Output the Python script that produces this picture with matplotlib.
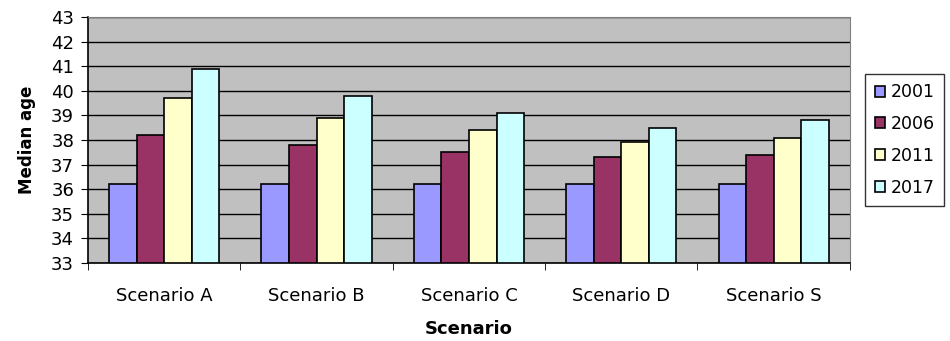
import numpy as np
import matplotlib.pyplot as plt

plt.rcParams['font.family'] = ['DejaVu Sans']

scenarios = ['Scenario A', 'Scenario B', 'Scenario C', 'Scenario D', 'Scenario S']
years = ['2001', '2006', '2011', '2017']
v2001 = [36.2, 36.2, 36.2, 36.2, 36.2]
v2006 = [38.2, 37.8, 37.5, 37.3, 37.4]
v2011 = [39.7, 38.9, 38.4, 37.9, 38.1]
v2017 = [40.9, 39.8, 39.1, 38.5, 38.8]
colors = ['#9999FF', '#993366', '#FFFFCC', '#CCFFFF']

fig = plt.figure(figsize=(9.5, 3.41), dpi=100)
ax = fig.add_axes([0.0926, 0.2287, 0.802, 0.7213])
ax.set_facecolor('#C0C0C0')

x = np.arange(len(scenarios))
w = 0.181
for i, (vals, c, yr) in enumerate(zip([v2001, v2006, v2011, v2017], colors, years)):
    ax.bar(x + (i - 1.5) * w, np.array(vals) - 33, w, bottom=33, color=c,
           edgecolor='black', linewidth=1.2, label=yr, zorder=3)

ax.set_ylim(33, 43)
ax.set_yticks(range(33, 44))
ax.set_xlim(-0.5, 4.5)
ax.set_xticks(x)
ax.set_xticklabels(scenarios, fontsize=13)
ax.set_xticks(np.arange(-0.5, 5, 1), minor=True)
ax.tick_params(axis='x', which='major', length=0, pad=17)
ax.tick_params(axis='x', which='minor', length=5, direction='out')
ax.tick_params(axis='y', labelsize=13, length=5, direction='out', pad=5)
ax.grid(axis='y', color='black', linewidth=1, zorder=0)
ax.set_axisbelow(True)
for s in ['top', 'right']:
    ax.spines[s].set_color('#808080')
for s in ['left', 'bottom']:
    ax.spines[s].set_color('black')
    ax.spines[s].set_linewidth(1.2)

ax.set_ylabel('Median age', fontsize=12, fontweight='bold', labelpad=11)
ax.set_xlabel('Scenario', fontsize=13, fontweight='bold', labelpad=11)

leg = ax.legend(loc='center left', bbox_to_anchor=(1.02, 0.5), fontsize=12.5,
                frameon=True, fancybox=False, edgecolor='black',
                handlelength=0.6, handleheight=0.6, handletextpad=0.3,
                labelspacing=0.8, borderpad=0.55, borderaxespad=0)
leg.get_frame().set_linewidth(1)

fig.savefig('out.png', dpi=100)
